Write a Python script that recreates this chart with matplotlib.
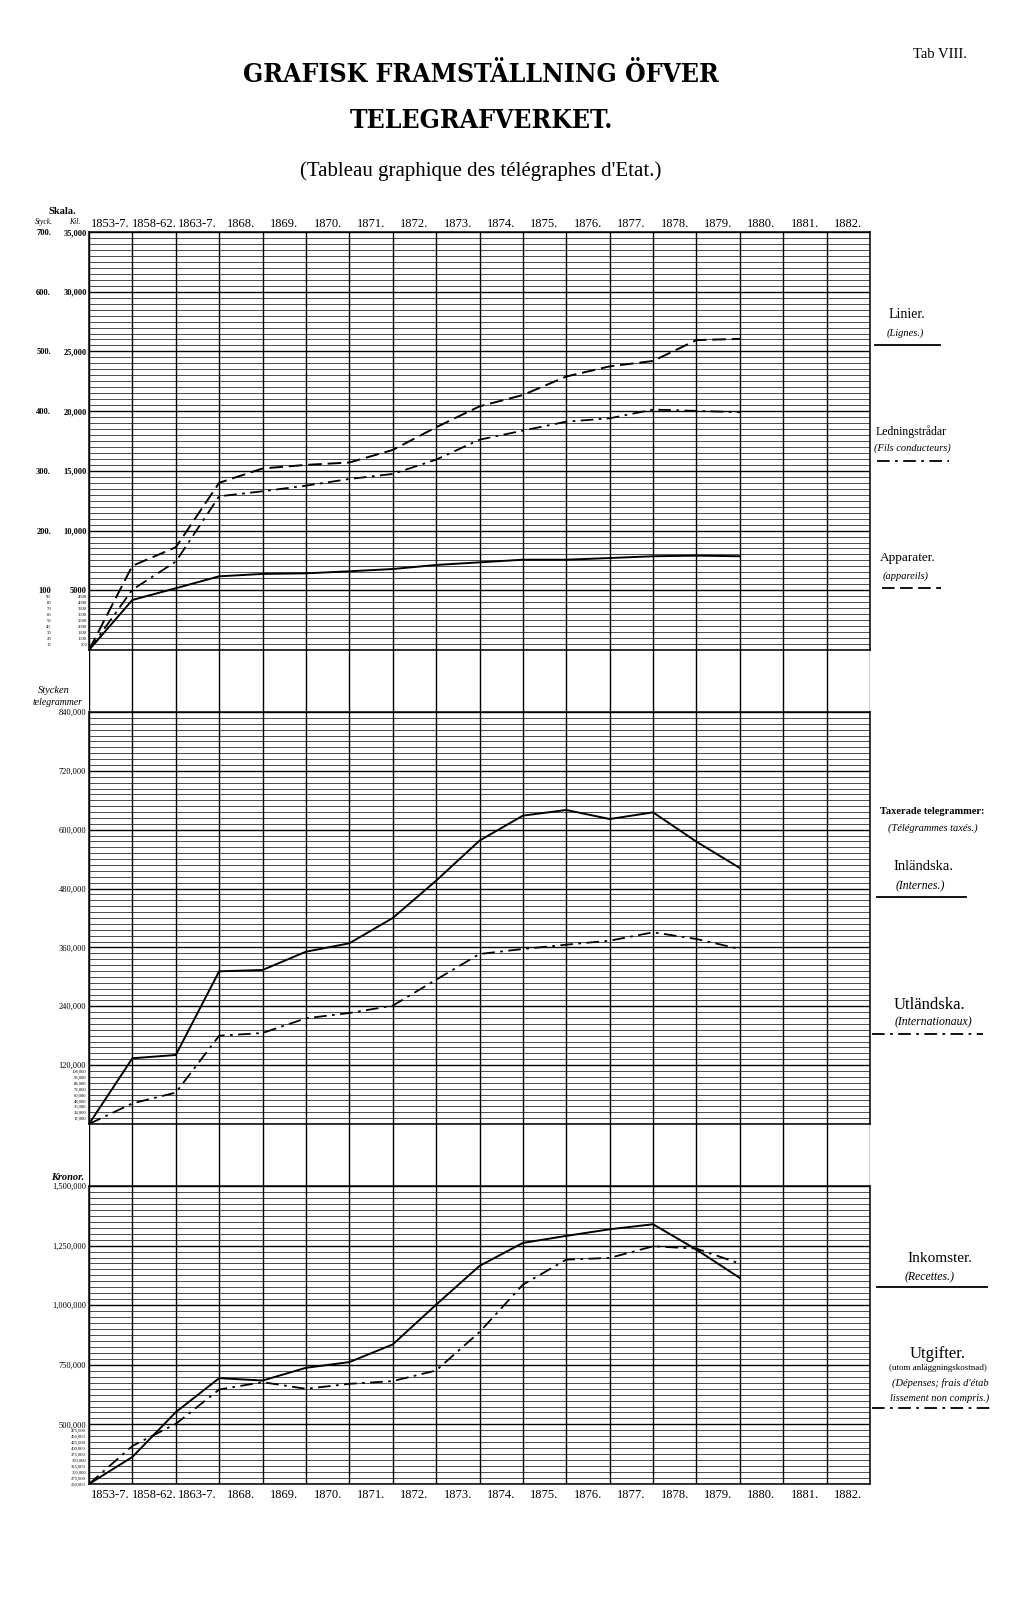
import matplotlib.pyplot as plt
from matplotlib.ticker import MultipleLocator
from matplotlib.lines import Line2D

# periods on the horizontal axis (one column each)
periods = ['1853-7.', '1858-62.', '1863-7.', '1868.', '1869.', '1870.', '1871.',
           '1872.', '1873.', '1874.', '1875.', '1876.', '1877.', '1878.', '1879.',
           '1880.', '1881.', '1882.']
# points: start of 1853, then end of each period up to 1879
steps = list(range(16))

# upper panel (Kil. scale 0-35000, Styck scale 0-700)
linier = [0, 4190, 5170, 6170, 6370, 6420, 6590, 6780, 7120, 7340, 7560, 7560, 7700, 7850, 7900, 7850]
ledningstradar = [0, 5050, 7400, 12870, 13290, 13760, 14320, 14740, 15940, 17610, 18370, 19120,
                  19400, 20130, 20020, 19910]
apparater = [0, 141, 172, 280, 304, 310, 314, 335, 373, 408, 427, 458, 475, 484, 519, 521]

# middle panel (telegrams)
inlandska = [0, 134000, 140700, 311300, 314000, 351300, 368400, 420000, 496100, 577700, 628700,
             640200, 621800, 635400, 575600, 521900]
utlandska = [0, 42000, 64000, 180000, 185500, 215500, 226300, 241200, 294200, 346600, 356800,
             365600, 373700, 390800, 377200, 356800]

# lower panel (kronor)
inkomster = [250000, 363400, 551300, 694100, 684000, 737400, 761300, 835300, 1002100, 1164700,
             1261300, 1290700, 1318500, 1339500, 1233200, 1114300]
utgifter = [250000, 409700, 502100, 646200, 677300, 649200, 670200, 681500, 726100, 887300,
            1086100, 1191200, 1198300, 1247100, 1237400, 1174400]

# scale labels
kil_big = [35000, 30000, 25000, 20000, 15000, 10000, 5000]
kil_big_lab = ['35,000', '30,000', '25,000', '20,000', '15,000', '10,000', '5000']
styck_big = [700, 600, 500, 400, 300, 200, 100]
styck_big_lab = ['700.', '600.', '500.', '400.', '300.', '200.', '100']
kil_small = [4500, 4000, 3500, 3000, 2500, 2000, 1500, 1000, 500]
styck_small = [90, 80, 70, 60, 50, 40, 30, 20, 10]
tel_big = [840000, 720000, 600000, 480000, 360000, 240000, 120000]
tel_small = [108000, 96000, 84000, 72000, 60000, 48000, 36000, 24000, 12000]
kr_big = [1500000, 1250000, 1000000, 750000, 500000]
kr_big_lab = ['1,500,000', '1,250,000', '1,000,000', '750,000', '500,000']
kr_small = [475000, 450000, 425000, 400000, 375000, 350000, 325000, 300000, 275000, 250000]

W, H = 1024, 1615
fig = plt.figure(figsize=(W / 100, H / 100), dpi=100)
fig.patch.set_facecolor('white')

SERIF = 'Liberation Serif'


def box(top, bottom):
    return [89 / W, 1 - bottom / H, 781 / W, (bottom - top) / H]


def txt(x, y, s, size, **kw):
    kw.setdefault('family', SERIF)
    fig.text(x / W, 1 - y / H, s, fontsize=size, ha=kw.pop('ha', 'center'),
             va=kw.pop('va', 'center'), **kw)


def key(x0, x1, y, style):
    fig.add_artist(Line2D([x0 / W, x1 / W], [1 - y / H, 1 - y / H], color='black',
                          lw=1.3, linestyle=style))


# vertical rules running through all panels
bg = fig.add_axes(box(233, 1485))
bg.set_xlim(0, 18)
bg.set_ylim(0, 1)
bg.axis('off')
for k in range(19):
    bg.axvline(k, color='black', lw=1.0)


def panel(top, bottom, ymin, ymax, minor, major):
    ax = fig.add_axes(box(top, bottom), facecolor='none')
    ax.set_xlim(0, 18)
    ax.set_ylim(ymin, ymax)
    ax.yaxis.set_minor_locator(MultipleLocator(minor))
    ax.yaxis.set_major_locator(MultipleLocator(major))
    ax.grid(which='minor', axis='y', color='#1a1a1a', lw=0.55)
    ax.grid(which='major', axis='y', color='black', lw=1.0)
    ax.set_xticks([])
    ax.tick_params(axis='y', which='both', length=0, labelleft=False)
    for s in ax.spines.values():
        s.set_linewidth(1.1)
    return ax


def labels(ax, vals, labs, xpix, size, **kw):
    tr = ax.get_yaxis_transform()
    for v, l in zip(vals, labs):
        ax.text((xpix - 89) / 781, v, l, transform=tr, ha='right', va='center',
                fontsize=size, family=SERIF, **kw)


# ---- upper panel
ax1 = panel(233, 651, 0, 35000, 500, 5000)
ax1.plot(steps, linier, color='black', lw=1.4)
ax1.plot(steps, ledningstradar, color='black', lw=1.3, dashes=(7, 3, 1.5, 3))
ax1b = ax1.twinx()
ax1b.set_ylim(0, 700)
ax1b.axis('off')
ax1b.plot(steps, apparater, color='black', lw=1.4, dashes=(7, 3))
ax1.xaxis.tick_top()
ax1.set_xticks([k + 0.5 for k in range(len(periods))], periods, family=SERIF, fontsize=9)
ax1.tick_params(axis='x', length=0, pad=2)
labels(ax1, kil_big, kil_big_lab, 87, 6, weight='bold')
labels(ax1b, styck_big, styck_big_lab, 51, 6, weight='bold')
labels(ax1, kil_small, [str(v) for v in kil_small], 87, 3.3)
labels(ax1b, styck_small, [str(v) for v in styck_small], 51, 3.3)
txt(62, 211, 'Skala.', 7.5, weight='bold')
txt(44, 222, 'Styck.', 5.5, style='italic')
txt(75, 222, 'Kil.', 5.5, style='italic')

# ---- middle panel
ax2 = panel(713, 1125, 0, 840000, 12000, 120000)
ax2.plot(steps, inlandska, color='black', lw=1.4)
ax2.plot(steps, utlandska, color='black', lw=1.3, dashes=(7, 3, 1.5, 3))
labels(ax2, tel_big, [f'{v:,}' for v in tel_big], 86, 6)
labels(ax2, tel_small, [f'{v:,}' for v in tel_small], 86, 3.3)
txt(54, 691, 'Stycken', 7.5, style='italic')
txt(58, 703, 'telegrammer', 7, style='italic')

# ---- lower panel
ax3 = panel(1187, 1485, 250000, 1500000, 25000, 250000)
ax3.plot(steps, inkomster, color='black', lw=1.4)
ax3.plot(steps, utgifter, color='black', lw=1.3, dashes=(7, 3, 1.5, 3))
ax3.set_xticks([k + 0.5 for k in range(len(periods))], periods, family=SERIF, fontsize=9)
ax3.tick_params(axis='x', length=0, pad=3)
labels(ax3, kr_big, kr_big_lab, 86, 6)
labels(ax3, kr_small, [f'{v:,}' for v in kr_small], 86, 3.3)
txt(68, 1178, 'Kronor.', 7.5, style='italic', weight='bold')

# ---- titles
tfont = dict(family='DejaVu Serif', weight='bold', stretch='condensed')
txt(481, 75, 'GRAFISK FRAMSTÄLLNING ÖFVER', 19, **tfont)
txt(481, 121, 'TELEGRAFVERKET.', 19, **tfont)
txt(481, 171, "(Tableau graphique des télégraphes d'Etat.)", 15)
txt(940, 55, 'Tab VIII.', 10.5)

# ---- keys on the right
txt(907, 315, 'Linier.', 10)
txt(905, 333, '(Lignes.)', 7.5, style='italic')
key(875, 940, 346, '-')
txt(911, 432, 'Ledningstrådar', 8.5)
txt(912, 448, '(Fils conducteurs)', 7.5, style='italic')
key(877, 949, 462, (0, (7, 3, 1.5, 3)))
txt(908, 558, 'Apparater.', 9.5)
txt(906, 576, '(appareils)', 7.5, style='italic')
key(882, 941, 589, (0, (7, 3)))

txt(932, 812, 'Taxerade telegrammer:', 7.5, weight='bold')
txt(933, 828, '(Télégrammes taxés.)', 7.5, style='italic')
txt(923, 867, 'Inländska.', 10.5)
txt(920, 886, '(Internes.)', 8.5, style='italic')
key(877, 966, 898, '-')
txt(930, 1005, 'Utländska.', 12)
txt(933, 1022, '(Internationaux)', 8.5, style='italic')
key(872, 983, 1035, (0, (7, 3, 1.5, 3)))

txt(940, 1259, 'Inkomster.', 11)
txt(930, 1277, '(Recettes.)', 8.5, style='italic')
key(877, 987, 1288, '-')
txt(938, 1354, 'Utgifter.', 12)
txt(938, 1368, '(utom anläggningskostnad)', 6.5)
txt(940, 1383, "(Dépenses; frais d'étab", 7.5, style='italic')
txt(940, 1398, 'lissement non compris.)', 7.5, style='italic')
key(872, 990, 1409, (0, (7, 3, 1.5, 3)))

fig.savefig('out.png', dpi=100, facecolor='white')
